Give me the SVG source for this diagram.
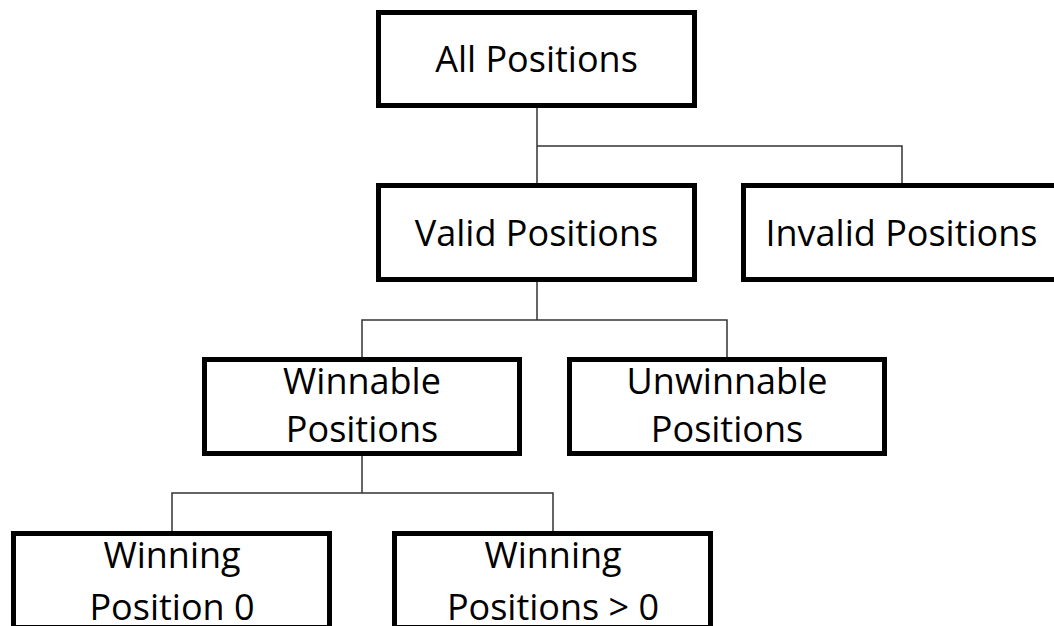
<svg xmlns="http://www.w3.org/2000/svg" width="1054" height="626" viewBox="0 0 1054 626">
  <style>
    .box { fill: #ffffff; stroke: #000000; stroke-width: 5; }
    .label { font-family: "Open Sans", "Liberation Sans", sans-serif; font-size: 36px; fill: #000000; text-anchor: middle; }
    .link { fill: none; stroke: #333333; stroke-width: 1.5; }
  </style>
  <rect width="1054" height="626" fill="#ffffff"/>

  <!-- tree connectors -->
  <g id="connectors">
    <path class="link" d="M537 108 V183 M537 146 H902 V183"/>
    <path class="link" d="M537 282 V320 M362 357 V320 H727 V357"/>
    <path class="link" d="M362 456 V493 M172 531 V493 H553 V531"/>
  </g>

  <g id="all-positions">
    <rect class="box" x="378.5" y="12.5" width="316" height="93"/>
    <text class="label" x="536.5" y="72">All Positions</text>
  </g>

  <g id="valid-positions">
    <rect class="box" x="378.5" y="185.5" width="316" height="94"/>
    <text class="label" x="536.5" y="246">Valid Positions</text>
  </g>

  <g id="invalid-positions">
    <rect class="box" x="743.5" y="185.5" width="316" height="94"/>
    <text class="label" x="901.5" y="246">Invalid Positions</text>
  </g>

  <g id="winnable-positions">
    <rect class="box" x="204.5" y="359.5" width="315" height="94"/>
    <text class="label" x="362" y="394">Winnable</text>
    <text class="label" x="362" y="442">Positions</text>
  </g>

  <g id="unwinnable-positions">
    <rect class="box" x="569.5" y="359.5" width="315" height="94"/>
    <text class="label" x="727" y="394">Unwinnable</text>
    <text class="label" x="727" y="442">Positions</text>
  </g>

  <g id="winning-position-0">
    <rect class="box" x="13.5" y="533.5" width="316" height="94"/>
    <text class="label" x="172" y="568">Winning</text>
    <text class="label" x="172" y="620">Position 0</text>
  </g>

  <g id="winning-positions-gt-0">
    <rect class="box" x="394.5" y="533.5" width="316" height="94"/>
    <text class="label" x="553" y="568">Winning</text>
    <text class="label" x="553" y="620">Positions &gt; 0</text>
  </g>
</svg>
